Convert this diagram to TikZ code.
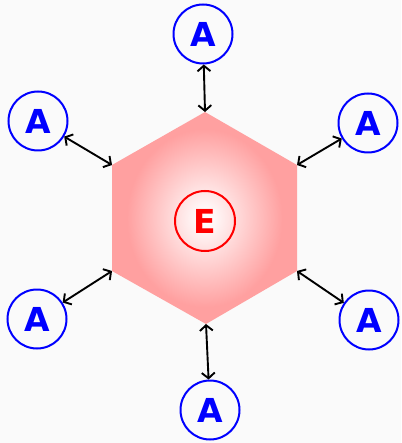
\documentclass[tikz,border=0pt]{standalone}
\usepackage{fontspec}
\setsansfont{DejaVu Sans}
\usetikzlibrary{arrows.meta}
\definecolor{bgc}{RGB}{250,250,250}
\definecolor{hexpink}{RGB}{255,160,160}
\pgfdeclareradialshading{hexshade}{\pgfpoint{0bp}{0bp}}{color(0bp)=(white); color(1bp)=(white); color(21bp)=(hexpink); color(50bp)=(hexpink)}
\tikzset{
  anode/.style={circle, draw=blue, line width=2pt, minimum size=59pt, inner sep=0pt, text=blue, font=\sffamily\bfseries\fontsize{33}{33}\selectfont},
  enode/.style={circle, draw=red, line width=2pt, minimum size=60pt, inner sep=0pt, text=red, font=\sffamily\bfseries\fontsize{33}{33}\selectfont},
  link/.style={line width=1.9pt, {Straight Barb[length=5.5pt,width=13pt]}-{Straight Barb[length=5.5pt,width=13pt]}}
}
\begin{document}
\begin{tikzpicture}[x=1pt,y=-1pt]
\fill[bgc] (0,0) rectangle (401,443);
\useasboundingbox (0,0) rectangle (401,443);
\coordinate (vT) at (205,112);
\coordinate (vUR) at (297,165);
\coordinate (vLR) at (297,271);
\coordinate (vB) at (206,324);
\coordinate (vLL) at (112,271);
\coordinate (vUL) at (112,165);
\shade[shading=hexshade] (vT) -- (vUR) -- (vLR) -- (vB) -- (vLL) -- (vUL) -- cycle;
\node[enode] (e) at (205,221) {E};
\node[anode] (a1) at (203,34) {A};
\node[anode] (a2) at (38,121) {A};
\node[anode] (a3) at (368,123) {A};
\node[anode] (a4) at (37,319) {A};
\node[anode] (a5) at (369,320) {A};
\node[anode] (a6) at (210,410) {A};
\draw[link] (vT) -- (a1);
\draw[link] (vUL) -- (a2);
\draw[link] (vUR) -- (a3);
\draw[link] (vLL) -- (a4);
\draw[link] (vLR) -- (a5);
\draw[link] (vB) -- (a6);
\end{tikzpicture}
\end{document}
